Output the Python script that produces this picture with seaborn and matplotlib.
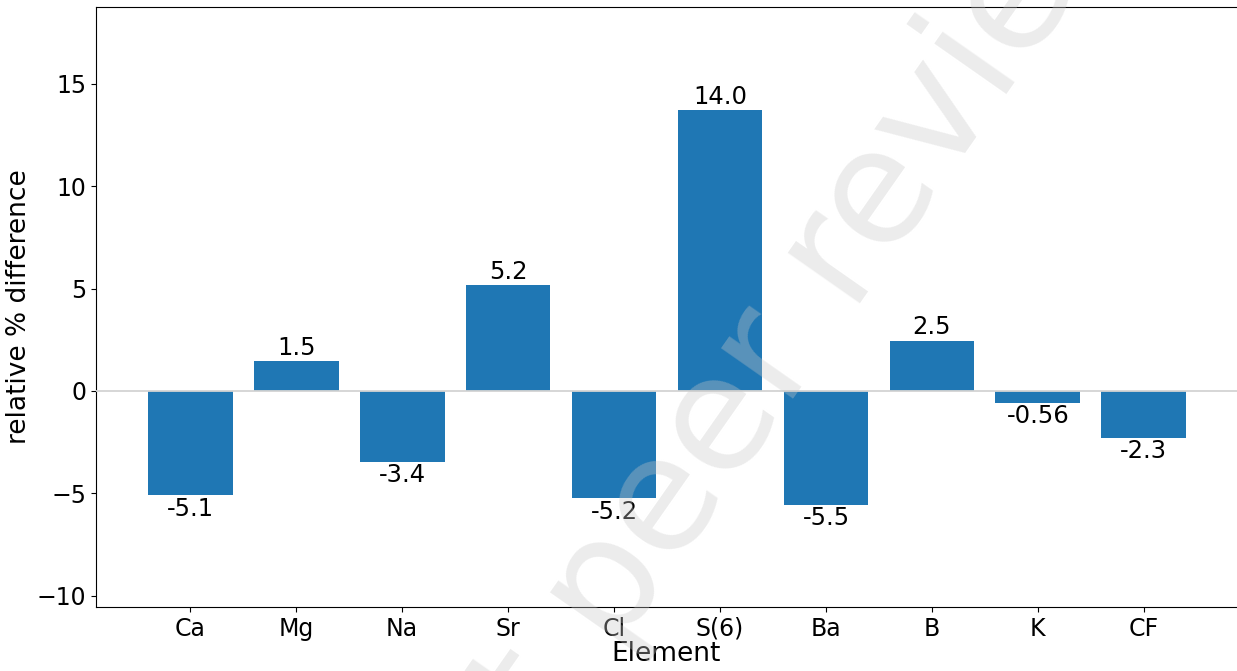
import matplotlib
matplotlib.use("Agg")
import matplotlib.pyplot as plt
import seaborn as sns
import pandas as pd

elements = ["Ca", "Mg", "Na", "Sr", "Cl", "S(6)", "Ba", "B", "K", "CF"]
rel_diff = [-5.1, 1.45, -3.45, 5.15, -5.25, 13.7, -5.55, 2.45, -0.57, -2.3]
bar_labels = ["-5.1", "1.5", "-3.4", "5.2", "-5.2", "14.0", "-5.5", "2.5", "-0.56", "-2.3"]
y_ticks = [-10, -5, 0, 5, 10, 15]

df = pd.DataFrame({"Element": elements, "relative % difference": rel_diff})

plt.rcParams["font.family"] = ["DejaVu Sans"]
fig, ax = plt.subplots(figsize=(12.37, 6.71), dpi=100)
fig.subplots_adjust(left=96 / 1237, right=1.0, top=1 - 7 / 671, bottom=1 - 607 / 671)

sns.barplot(data=df, x="Element", y="relative % difference", color="#1f77b4",
            saturation=1, width=0.8, ax=ax, linewidth=0, zorder=2)
ax.axhline(0, color="#d3d3d3", lw=1.3, zorder=3)
ax.bar_label(ax.containers[0], labels=bar_labels, fontsize=17.5, padding=1)

ax.set_xlim(-0.89, 9.88)
ax.set_ylim(-10.55, 18.75)
ax.set_yticks(y_ticks)
ax.tick_params(axis="both", labelsize=17)
ax.set_xlabel("Element", fontsize=19, labelpad=0)
ax.set_ylabel("relative % difference", fontsize=19, labelpad=3)
ax.spines["right"].set_visible(False)

fig.text(848 / 1237, 1 - 322 / 671, "Not peer reviewed", fontsize=115, rotation=55,
         rotation_mode="anchor", color="#c8c8c8", alpha=0.35,
         ha="center", va="baseline", zorder=10)

fig.savefig("out.png", dpi=100)
